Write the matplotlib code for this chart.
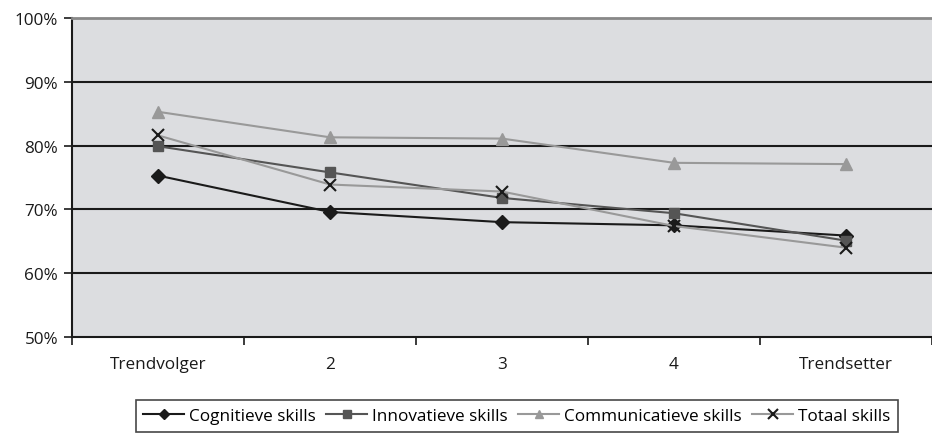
import numpy as np
import matplotlib.pyplot as plt

# Categories and scores per skill group
categories = ["Trendvolger", "2", "3", "4", "Trendsetter"]
cognitief = [75.3, 69.6, 68.0, 67.5, 65.9]
innovatief = [79.9, 75.8, 71.8, 69.4, 65.1]
communicatief = [85.3, 81.3, 81.1, 77.3, 77.1]
totaal = [81.6, 73.9, 72.8, 67.4, 64.0]
yticks = [50, 60, 70, 80, 90, 100]

plt.rcParams["font.family"] = ["Open Sans", "DejaVu Sans"]

fig = plt.figure(figsize=(9.32, 4.35), dpi=100)
ax = fig.add_axes([72 / 932, (435 - 338) / 435, 860 / 932, (338 - 19) / 435])
ax.set_facecolor("#dcdde0")

x = np.arange(len(categories))
ax.plot(x, cognitief, color="#1a1a1a", lw=1.5, marker="D", ms=7, label="Cognitieve skills")
ax.plot(x, innovatief, color="#555555", lw=1.5, marker="s", ms=7, label="Innovatieve skills")
ax.plot(x, communicatief, color="#999999", lw=1.5, marker="^", ms=8, label="Communicatieve skills")
ax.plot(x, totaal, color="#999999", lw=1.5, marker="x", ms=9, mew=1.5, mec="#1a1a1a",
        label="Totaal skills")

ax.set_xlim(-0.5, len(categories) - 0.5)
ax.set_ylim(50, 100)
ax.set_yticks(yticks)
ax.set_yticklabels([f"{v}%" for v in yticks], fontsize=12.3, color="#1a1a1a")
for v in yticks[1:-1]:
    ax.axhline(v, color="#1a1a1a", lw=1.5, zorder=0.5)

ax.set_xticks(x)
ax.set_xticklabels(categories, fontsize=12.3, color="#1a1a1a")
ax.tick_params(axis="x", which="major", length=0, pad=14)
ax.set_xticks(np.arange(-0.5, len(categories), 1.0), minor=True)
ax.tick_params(axis="x", which="minor", length=6, width=1.2, color="#1a1a1a")
ax.tick_params(axis="y", length=6, width=1.2, color="#1a1a1a", pad=4)

ax.spines["right"].set_visible(False)
ax.spines["top"].set_color("#888888")
ax.spines["top"].set_linewidth(2)
for s in ("left", "bottom"):
    ax.spines[s].set_color("#1a1a1a")
    ax.spines[s].set_linewidth(1.5)

leg = fig.legend(loc="center", bbox_to_anchor=(517 / 932, 1 - 417 / 435), ncol=4,
                 fontsize=12.3, frameon=True, fancybox=False, edgecolor="#1a1a1a",
                 handlelength=2.4, handletextpad=0.3, columnspacing=0.6,
                 borderpad=0.45, borderaxespad=0, markerscale=0.8)
leg.get_frame().set_linewidth(1.2)

fig.savefig("out.png", dpi=100)
